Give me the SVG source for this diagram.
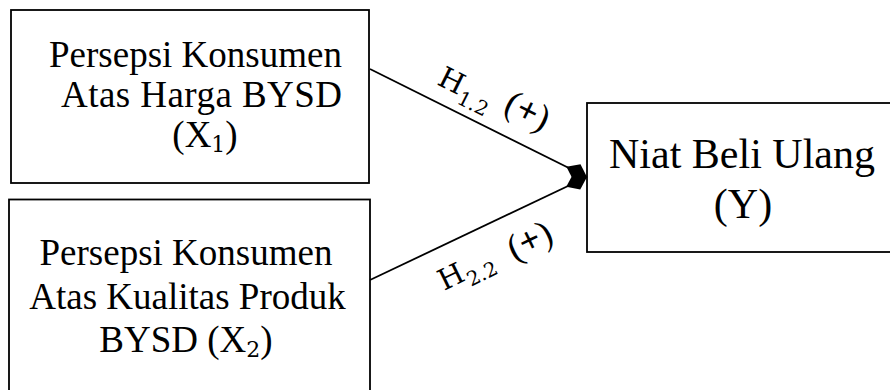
<svg xmlns="http://www.w3.org/2000/svg" width="890" height="390" viewBox="0 0 890 390">
<style>
.box{fill:#fff;stroke:#000;stroke-width:1.8}
.t{font-family:"Liberation Serif","Times New Roman",serif;fill:#000}
.m{font-family:"DejaVu Serif","Liberation Serif",serif;fill:#000}
.n{font-size:37px;text-anchor:middle}
.big{font-size:42px;text-anchor:middle}
.nsub{font-size:22px}
.lh{font-size:29px}
.ls{font-size:20px}
.lp{font-size:37px;text-anchor:middle}
.pl{font-weight:bold}
.con{stroke:#000;stroke-width:1.8;fill:none}
</style>
<defs>
<marker id="dia" markerUnits="userSpaceOnUse" markerWidth="26" markerHeight="20" viewBox="0 -10 24 20" refX="23" refY="0" orient="auto">
<path d="M0,0 L11.5,-8.5 L23,0 L11.5,8.5 Z" fill="#000"/>
</marker>
</defs>
<rect width="890" height="390" fill="#fff"/>
<g id="node-x1">
<rect class="box" x="11" y="10" width="358" height="173"/>
<text class="t n" x="195.5" y="67">Persepsi Konsumen</text>
<text class="t n" x="201.5" y="107" textLength="281">Atas Harga BYSD</text>
<text class="t n" x="205" y="147">(X<tspan class="m nsub" dy="5">1</tspan><tspan dy="-5">)</tspan></text>
</g>
<g id="node-x2">
<rect class="box" x="9" y="199.5" width="361" height="200"/>
<text class="t n" x="186" y="265">Persepsi Konsumen</text>
<text class="t n" x="187.5" y="309">Atas Kualitas Produk</text>
<text class="t n" x="186" y="352">BYSD (X<tspan class="m nsub" dy="5">2</tspan><tspan dy="-5">)</tspan></text>
</g>
<g id="node-y">
<rect class="box" x="587" y="103" width="320" height="149"/>
<text class="t big" x="742" y="168">Niat Beli Ulang</text>
<text class="t big" x="743" y="218">(Y)</text>
</g>
<g id="connectors">
<line class="con" x1="370" y1="69" x2="587" y2="177" marker-end="url(#dia)"/>
<line class="con" x1="370" y1="280" x2="587" y2="177" marker-end="url(#dia)"/>
<g transform="translate(436,84) rotate(26.5)">
<text class="m lh" x="0" y="0">H</text>
<text class="m ls" x="26" y="8">1.2</text>
<text class="t lp" x="94" y="-5">(<tspan class="pl">+</tspan>)</text>
</g>
<g transform="translate(444,291) rotate(-26)">
<text class="m lh" x="0" y="0">H</text>
<text class="m ls" x="26" y="8">2.2</text>
<text class="t lp" x="99" y="4">(<tspan class="pl">+</tspan>)</text>
</g>
</g>
</svg>
